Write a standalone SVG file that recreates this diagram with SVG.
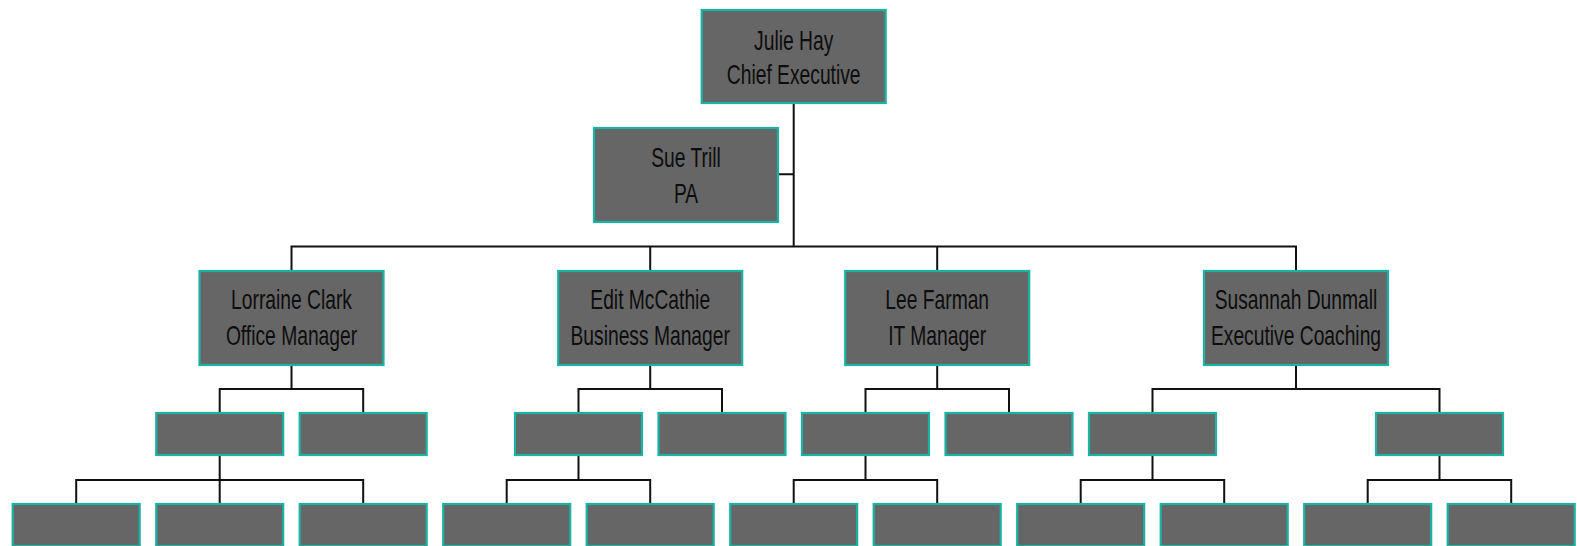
<svg xmlns="http://www.w3.org/2000/svg" width="1577" height="546" viewBox="0 0 1577 546">
<style>
.box{fill:#666666;stroke:#1ab3a3;stroke-width:2.2}
.ln{stroke:#111;stroke-width:2;fill:none}
.t{font-family:"Liberation Sans",Arial,sans-serif;font-size:27px;fill:#0d0d0d;text-anchor:middle}
</style>
<rect width="1577" height="546" fill="#fff"/>
<g id="connectors" class="ln">
<path d="M793.7 103V246.5M778 174.3H793.7"/>
<path d="M291.5 271V246.5H1296V271M650.2 246.5V271M937.2 246.5V271"/>
<path d="M291.5 365V389M219.7 413V389H363.2V413"/>
<path d="M650.2 365V389M578.5 413V389H722V413"/>
<path d="M937.2 365V389M865.5 413V389H1009V413"/>
<path d="M1296 365V389M1152.5 413V389H1439.5V413"/>
<path d="M219.7 455V480M76.2 504V480H363.2V504M219.7 480V504"/>
<path d="M578.5 455V480M506.7 504V480H650.2V504"/>
<path d="M865.5 455V480M793.7 504V480H937.2V504"/>
<path d="M1152.5 455V480M1080.7 504V480H1224.2V504"/>
<path d="M1439.5 455V480M1367.7 504V480H1511.2V504"/>
</g>
<g id="julie"><rect class="box" x="701.7" y="10" width="184" height="93"/>
<g transform="translate(793.7 0) scale(0.713 1)"><text class="t" x="0" y="50">Julie Hay</text><text class="t" x="0" y="84">Chief Executive</text></g></g>
<g id="sue"><rect class="box" x="594" y="128" width="184" height="94"/>
<g transform="translate(686 0) scale(0.713 1)"><text class="t" x="0" y="166.7">Sue Trill</text><text class="t" x="0" y="203.5">PA</text></g></g>
<g id="lorraine"><rect class="box" x="199.5" y="271" width="184" height="94"/>
<g transform="translate(291.5 0) scale(0.713 1)"><text class="t" x="0" y="309">Lorraine Clark</text><text class="t" x="0" y="345">Office Manager</text></g></g>
<g id="edit"><rect class="box" x="558.2" y="271" width="184" height="94"/>
<g transform="translate(650.2 0) scale(0.713 1)"><text class="t" x="0" y="309">Edit McCathie</text><text class="t" x="0" y="345">Business Manager</text></g></g>
<g id="lee"><rect class="box" x="845.2" y="271" width="184" height="94"/>
<g transform="translate(937.2 0) scale(0.713 1)"><text class="t" x="0" y="309">Lee Farman</text><text class="t" x="0" y="345">IT Manager</text></g></g>
<g id="susannah"><rect class="box" x="1204" y="271" width="184" height="94"/>
<g transform="translate(1296 0) scale(0.713 1)"><text class="t" x="0" y="309">Susannah Dunmall</text><text class="t" x="0" y="345">Executive Coaching</text></g></g>
<g id="l3a"><rect class="box" x="156.2" y="413" width="127" height="42"/></g>
<g id="l3b"><rect class="box" x="299.7" y="413" width="127" height="42"/></g>
<g id="l3c"><rect class="box" x="515" y="413" width="127" height="42"/></g>
<g id="l3d"><rect class="box" x="658.5" y="413" width="127" height="42"/></g>
<g id="l3e"><rect class="box" x="802" y="413" width="127" height="42"/></g>
<g id="l3f"><rect class="box" x="945.5" y="413" width="127" height="42"/></g>
<g id="l3g"><rect class="box" x="1089" y="413" width="127" height="42"/></g>
<g id="l3h"><rect class="box" x="1376" y="413" width="127" height="42"/></g>
<g id="l4a"><rect class="box" x="12.7" y="504" width="127" height="42"/></g>
<g id="l4b"><rect class="box" x="156.2" y="504" width="127" height="42"/></g>
<g id="l4c"><rect class="box" x="299.7" y="504" width="127" height="42"/></g>
<g id="l4d"><rect class="box" x="443.2" y="504" width="127" height="42"/></g>
<g id="l4e"><rect class="box" x="586.7" y="504" width="127" height="42"/></g>
<g id="l4f"><rect class="box" x="730.2" y="504" width="127" height="42"/></g>
<g id="l4g"><rect class="box" x="873.7" y="504" width="127" height="42"/></g>
<g id="l4h"><rect class="box" x="1017.2" y="504" width="127" height="42"/></g>
<g id="l4i"><rect class="box" x="1160.7" y="504" width="127" height="42"/></g>
<g id="l4j"><rect class="box" x="1304.2" y="504" width="127" height="42"/></g>
<g id="l4k"><rect class="box" x="1447.7" y="504" width="127" height="42"/></g>
</svg>
